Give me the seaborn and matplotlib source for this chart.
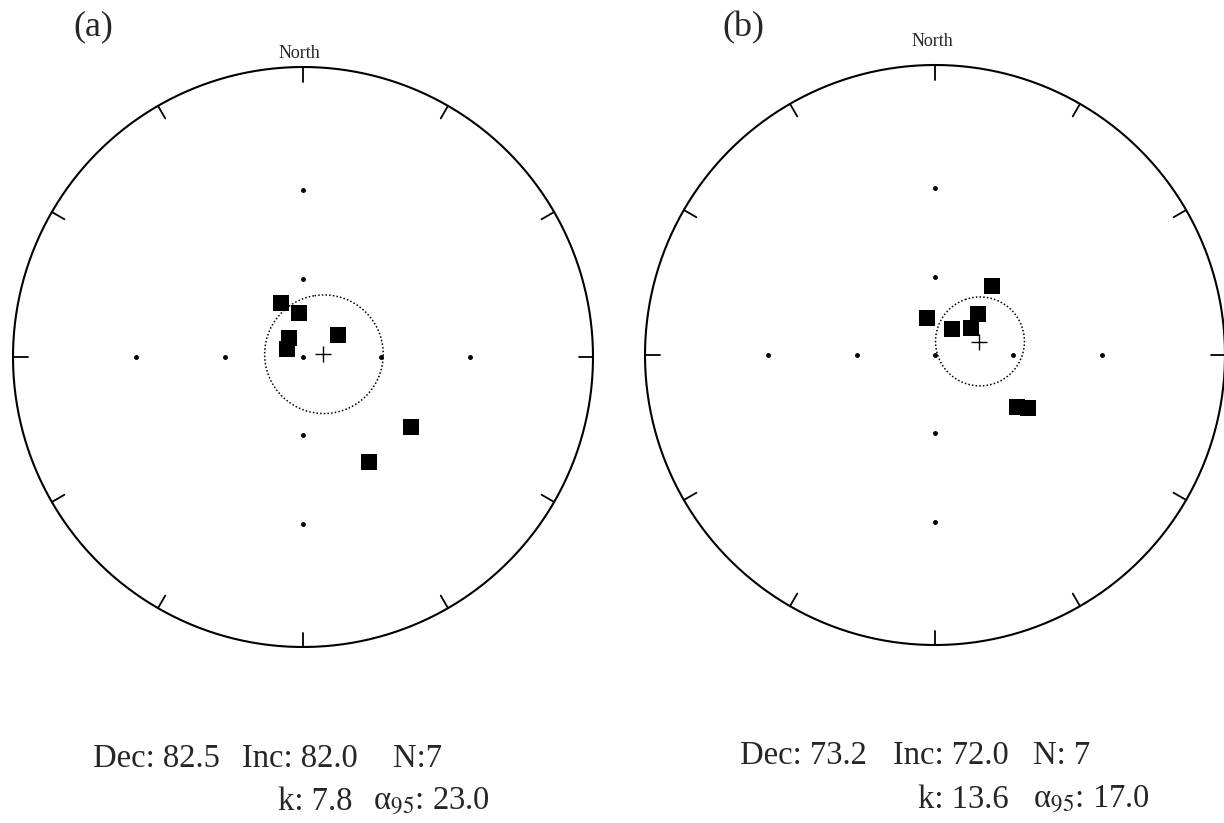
import numpy as np
import pandas as pd
import matplotlib
matplotlib.use("Agg")
import matplotlib.pyplot as plt
import seaborn as sns

# site directions (declination, inclination in degrees)
dec_a = [337.8, 354.8, 57.8, 323.6, 296.6, 122.9, 147.8]
inc_a = [67.3, 72.7, 73.8, 80.7, 82.9, 42.1, 43.7]
dec_b = [39.6, 347.8, 33.2, 53.1, 46.4, 122.4, 119.7]
inc_b = [55.7, 75.1, 77.8, 72.4, 66.8, 53.0, 49.5]

# Fisher means
mean_a = {"dec": 82.5, "inc": 82.0, "n": 7, "k": 7.8, "a95": 23.0}
mean_b = {"dec": 73.2, "inc": 72.0, "n": 7, "k": 13.6, "a95": 17.0}

grid_incs = [30, 60]
grid_decs = [0, 90, 180, 270]
perim_ticks = np.arange(0, 360, 30)


def project(dec, inc):
    """Equal-angle (stereographic) projection, lower hemisphere, radius 1."""
    dec = np.radians(np.asarray(dec, dtype=float))
    inc = np.asarray(inc, dtype=float)
    r = np.tan(np.radians(90 - inc) / 2)
    return r * np.sin(dec), r * np.cos(dec)


def cone(dec, inc, a95, n=200):
    """Points of the alpha95 small circle around a mean direction."""
    d, i = np.radians(dec), np.radians(inc)
    m = np.array([np.cos(i) * np.cos(d), np.cos(i) * np.sin(d), np.sin(i)])
    u = np.cross(m, [0, 0, 1.0])
    u /= np.linalg.norm(u)
    v = np.cross(m, u)
    t = np.linspace(0, 2 * np.pi, n)
    a = np.radians(a95)
    pts = (np.cos(a) * m[:, None]
           + np.sin(a) * (np.cos(t) * u[:, None] + np.sin(t) * v[:, None]))
    decs = np.degrees(np.arctan2(pts[1], pts[0]))
    incs = np.degrees(np.arcsin(np.clip(pts[2], -1, 1)))
    return decs, incs


def draw_net(ax, decs, incs, mean):
    t = np.linspace(0, 2 * np.pi, 400)
    ax.plot(np.cos(t), np.sin(t), color="black", lw=1.5, clip_on=False)
    for az in perim_ticks:
        s, c = np.sin(np.radians(az)), np.cos(np.radians(az))
        ax.plot([0.95 * s, s], [0.95 * c, c], color="black", lw=1.3, clip_on=False)

    gx, gy = project([d for d in grid_decs for _ in grid_incs],
                     [i for _ in grid_decs for i in grid_incs])
    ax.plot(gx, gy, "o", color="black", ms=2.5, ls="none")
    ax.plot([0], [0], "o", color="black", ms=2.5)

    x, y = project(decs, incs)
    df = pd.DataFrame({"x": x, "y": y})
    sns.scatterplot(data=df, x="x", y="y", marker="s", s=125, color="black",
                    edgecolor="black", linewidth=0, ax=ax, zorder=3)

    cd, ci = cone(mean["dec"], mean["inc"], mean["a95"])
    cx, cy = project(cd, ci)
    ax.plot(cx, cy, color="black", lw=1.1, ls=(0, (1, 1.4)))
    mx, my = project(mean["dec"], mean["inc"])
    ax.plot(mx, my, "+", color="black", ms=12, mew=1.0)

    ax.set_xlim(-1, 1)
    ax.set_ylim(-1, 1)
    ax.set_aspect("equal")
    ax.axis("off")


sns.set_style("white")
plt.rcParams["font.family"] = ["Liberation Serif", "DejaVu Serif"]
plt.rcParams["mathtext.fontset"] = "stix"

W, H = 1224, 823
fig = plt.figure(figsize=(W / 100, H / 100), dpi=100)

R = 290
ax_a = fig.add_axes([(303 - R) / W, (H - 357 - R) / H, 2 * R / W, 2 * R / H])
ax_b = fig.add_axes([(935 - R) / W, (H - 355 - R) / H, 2 * R / W, 2 * R / H])
draw_net(ax_a, dec_a, inc_a, mean_a)
draw_net(ax_b, dec_b, inc_b, mean_b)


def px(x, y):
    return x / W, 1 - y / H


fig.text(*px(93, 27), "(a)", fontsize=26, ha="center", va="center")
fig.text(*px(743, 28), "(b)", fontsize=26, ha="center", va="center")
fig.text(*px(299, 53), "North", fontsize=13, ha="center", va="center")
fig.text(*px(932, 41), "North", fontsize=13, ha="center", va="center")

alpha = "α$_{95}$"
stats_text = [
    (93, 767, f"Dec: {mean_a['dec']:.1f}"),
    (242, 767, f"Inc: {mean_a['inc']:.1f}"),
    (393, 767, f"N:{mean_a['n']}"),
    (278, 810, f"k: {mean_a['k']:.1f}"),
    (373, 810, f"{alpha}: {mean_a['a95']:.1f}"),
    (740, 764, f"Dec: {mean_b['dec']:.1f}"),
    (893, 764, f"Inc: {mean_b['inc']:.1f}"),
    (1033, 764, f"N: {mean_b['n']}"),
    (918, 808, f"k: {mean_b['k']:.1f}"),
    (1033, 808, f"{alpha}: {mean_b['a95']:.1f}"),
]
for x, y, s in stats_text:
    fig.text(*px(x, y), s, fontsize=23.5, ha="left", va="baseline")

fig.savefig("out.png", dpi=100, facecolor="white")
